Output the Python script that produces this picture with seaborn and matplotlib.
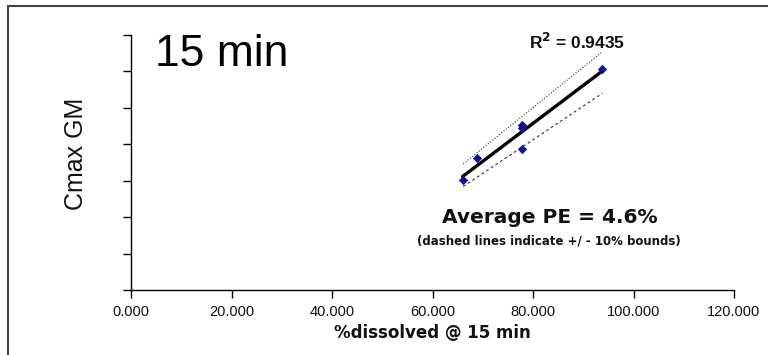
import numpy as np
import pandas as pd
import seaborn as sns
import matplotlib
matplotlib.use("Agg")
import matplotlib.pyplot as plt
from matplotlib.patches import Rectangle

# ---- data ----
pct_dissolved = [66.0, 68.8, 77.8, 77.8, 77.8, 93.8]
cmax_gm = [3.02, 3.62, 4.54, 4.45, 3.88, 6.06]
upper_x = [66.1, 93.8]
upper_y = [3.46, 6.54]
lower_x = [66.1, 93.8]
lower_y = [2.84, 5.40]
x_ticks = [0, 20, 40, 60, 80, 100, 120]
x_tick_labels = ["0.000", "20.000", "40.000", "60.000", "80.000", "100.000", "120.000"]
y_ticks = [0, 1, 2, 3, 4, 5, 6, 7]
r2_text = "R$^{\\mathbf{2}}$ = 0.9435"
pe_text = "Average PE = 4.6%"
note_text = "(dashed lines indicate +/ - 10% bounds)"
panel_title = "15 min"

df = pd.DataFrame({"x": pct_dissolved, "y": cmax_gm})

sns.set_theme(style="white")
plt.rcParams["font.family"] = ["Liberation Sans", "DejaVu Sans"]

W, H = 768, 355
fig = plt.figure(figsize=(W / 100, H / 100), dpi=100)
ax = fig.add_axes([131 / W, 1 - 290 / H, (734 - 131) / W, (290 - 35) / H])

# regression line
sns.regplot(data=df, x="x", y="y", ax=ax, ci=None, scatter=False,
            line_kws=dict(color="black", lw=2.4, zorder=3))
# bounds
ax.plot(upper_x, upper_y, color="#333333", lw=0.8, ls=(0, (1, 1.6)), zorder=2)
ax.plot(lower_x, lower_y, color="#333333", lw=0.8, ls=(0, (2.5, 2.5)), zorder=2)
# points
sns.scatterplot(data=df, x="x", y="y", ax=ax, marker="D", s=18,
                color="#10108c", edgecolor="#10108c", linewidth=0.5, zorder=4)

ax.set_xlim(0, 120)
ax.set_ylim(0, 7)
ax.set_xticks(x_ticks)
ax.set_xticklabels(x_tick_labels, fontsize=10.5, color="#111111")
ax.set_yticks(y_ticks)
ax.set_yticklabels([])
ax.set_xlabel("")
ax.set_ylabel("")
for s in ["top", "right"]:
    ax.spines[s].set_visible(False)
for s in ["left", "bottom"]:
    ax.spines[s].set_color("black")
    ax.spines[s].set_linewidth(1.0)
ax.tick_params(axis="both", direction="out", length=6, width=1.0, color="black",
               bottom=True, left=True, pad=5)

# texts
fig.text(432 / W, 1 - 333 / H, "%dissolved @ 15 min", ha="center", va="center",
         fontsize=12, fontweight="bold", family=["DejaVu Sans"], color="#111111")
fig.text(76 / W, 1 - 154 / H, "Cmax GM", rotation=90, ha="center", va="center",
         fontsize=18, color="#111111")
fig.text(155 / W, 1 - 54 / H, panel_title, ha="left", va="center",
         fontsize=32, color="black")
fig.text(577 / W, 1 - 42 / H, r2_text, ha="center", va="center",
         fontsize=12.5, fontweight="bold", color="#111111")
fig.text(550 / W, 1 - 218 / H, pe_text, ha="center", va="center",
         fontsize=14.5, fontweight="bold", family=["DejaVu Sans"], color="#111111")
fig.text(549 / W, 1 - 241 / H, note_text, ha="center", va="center",
         fontsize=8.5, fontweight="bold", family=["DejaVu Sans"], color="#111111")

# outer border of the chart area
fig.patches.append(Rectangle((8 / W, -0.1), 1.2, 1.1 - 6 / H, transform=fig.transFigure,
                             fill=False, edgecolor="#444444", lw=1.5))

fig.savefig("out.png", dpi=100, facecolor="white")
